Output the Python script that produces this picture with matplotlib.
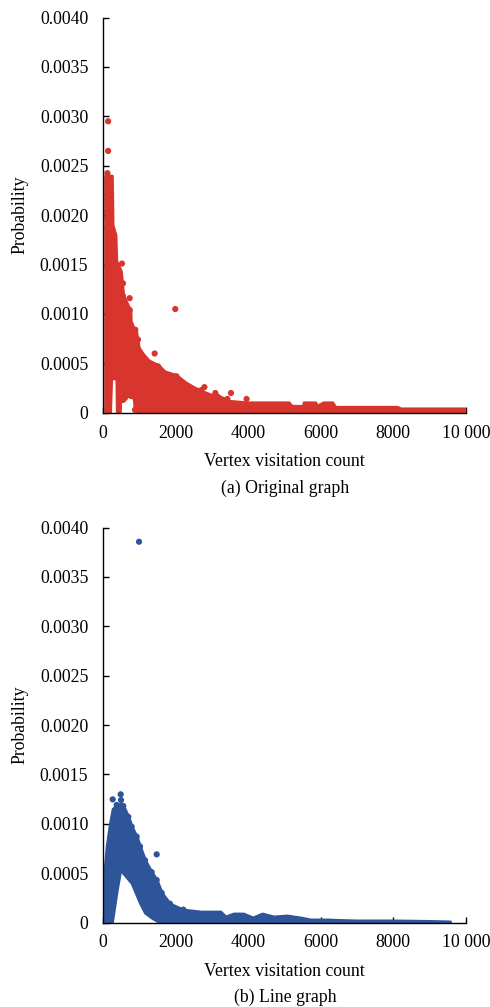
import matplotlib
matplotlib.use("Agg")
import matplotlib.pyplot as plt

plt.rcParams['font.family'] = ['Liberation Serif', 'DejaVu Serif']

# ---------------- data ----------------
# (a) Original graph: envelope of the dense cloud
x_orig = [70, 200, 230, 250, 270, 350, 370, 380, 390, 470, 480, 500, 560, 600, 700, 760, 770,
          860, 880, 916, 990, 1100, 1265, 1540, 1700, 2030, 2270, 2500, 2730, 3000, 3190, 3500,
          3970, 5120, 5200, 5520, 5530, 5850, 5900, 6070, 6320, 6400, 8100, 8200, 9950]
upper_orig = [0.0024, 0.0024, 0.0024, 0.0024, 0.0019, 0.0018, 0.00155, 0.00153, 0.00152, 0.00146,
              0.00145, 0.00143, 0.0012, 0.00116, 0.00108, 0.00105, 0.00093, 0.00085, 0.00084,
              0.00083, 0.00066, 0.0006, 0.00053, 0.00048, 0.00042, 0.00038, 0.00031, 0.00026,
              0.00022, 0.00018, 0.00017, 0.00012, 0.000105, 0.000105, 0.00007, 0.00007, 0.000105,
              0.000105, 0.00007, 0.000105, 0.000105, 0.00006, 0.00006, 0.000044, 0.000044]
lower_orig = [0, 0, 0.00035, 0.00035, 0.00035, 0.00035, 0.00035, 0.00035, 0, 0, 0.00016, 0.00017,
              0.00017, 0.00017, 0.00017, 0.00016, 0.00016, 0.00015, 0, 0, 0, 0, 0, 0, 0, 0, 0, 0,
              0, 0, 0, 0, 0, 0, 0, 0, 0, 0, 0, 0, 0, 0, 0, 0, 0]
# (a) individual dots: column near x = 150, cloud edge and outliers
dots_orig_x = [150, 150,
               130, 170, 130, 170, 130, 130, 170, 130, 130, 170, 130, 170, 190,
               284, 238, 284, 421, 467, 530, 559, 559, 742, 742, 880, 898, 972, 972, 1063,
               1247, 1430, 1522, 1997, 2027, 2072, 2256, 2715, 2800, 3100, 3174, 3430, 3530, 3960,
               560, 610, 890]
dots_orig_y = [0.00295, 0.00265,
               0.002425, 0.002375, 0.002317, 0.002263, 0.002206, 0.002155, 0.002097, 0.002036,
               0.001986, 0.001929, 0.001874, 0.001818, 0.00176,
               0.00182, 0.00172, 0.00163, 0.00145, 0.00141, 0.00151, 0.00131, 0.00118, 0.00104,
               0.00116, 0.00084, 0.00084, 0.00074, 0.00064, 0.00057,
               0.0005, 0.0006, 0.00047, 0.00105, 0.00037, 0.00033, 0.00026, 0.00023, 0.00026,
               0.0002, 0.00016, 0.00014, 0.0002, 0.00014,
               0.00013, 0.00015, 0.00003]

# (b) Line graph: envelope of the dense cloud
x_line = [30, 63, 110, 200, 250, 275, 385, 485, 500, 567, 705, 797, 935, 990, 1027, 1165, 1348,
          1486, 1580, 1624, 1852, 2219, 2700, 3000, 3240, 3380, 3600, 3870, 4130, 4390, 4700,
          5070, 5440, 5710, 6170, 6500, 7000, 8000, 9000, 9560]
upper_line = [0.0005, 0.00057, 0.00077, 0.001, 0.0011, 0.00115, 0.00119, 0.0012, 0.0012,
              0.00118, 0.00107, 0.00097, 0.00087, 0.00081, 0.00077, 0.00063, 0.00051, 0.00043,
              0.00034, 0.0003, 0.00019, 0.00013, 0.00011, 0.00011, 0.00011, 0.00006, 0.00009,
              0.00009, 0.00005, 0.00009, 0.00006, 0.00007, 0.00005, 0.00003, 0.00003, 0.000025,
              0.00002, 0.00002, 0.000015, 0.00001]
lower_line = [0, 0, 0, 0, 0, 0.00006, 0.00033, 0.00054, 0.00054, 0.0005, 0.00044, 0.0004,
              0.00028, 0.00023, 0.0002, 0.0001, 0.00005, 0.00002, 0, 0, 0, 0, 0, 0, 0, 0, 0, 0,
              0, 0, 0, 0, 0, 0, 0, 0, 0, 0, 0, 0]
# (b) individual dots: peak, edge and outliers
dots_line_x = [275, 495, 504, 385, 567, 705, 797, 935, 1027, 1165, 1348, 1486, 1624, 1852,
               2219, 1486, 1000]
dots_line_y = [0.001247, 0.001298, 0.00124, 0.00119, 0.00118, 0.00107, 0.00097, 0.00087,
               0.00077, 0.00063, 0.00051, 0.00043, 0.0003, 0.00019, 0.00013, 0.00069, 0.003856]

x_ticks = [0, 2000, 4000, 6000, 8000, 10000]
x_ticklabels = ["0", "2000", "4000", "6000", "8000", "10 000"]
y_ticks = [0, 0.0005, 0.001, 0.0015, 0.002, 0.0025, 0.003, 0.0035, 0.004]
y_ticklabels = ["0", "0.0005", "0.0010", "0.0015", "0.0020", "0.0025", "0.0030", "0.0035", "0.0040"]

red = '#d8352f'
blue = '#2e5599'
FS = 12.8

W, H = 490, 1007
fig = plt.figure(figsize=(W / 100, H / 100), dpi=100)
ax1 = fig.add_axes([102.7 / W, 1 - 412.8 / H, (466 - 102.7) / W, (412.8 - 17.5) / H])
ax2 = fig.add_axes([102.7 / W, 1 - 922.5 / H, (466 - 102.7) / W, (922.5 - 527.5) / H])


def style(ax):
    ax.set_xlim(0, 10000)
    ax.set_ylim(0, 0.004)
    ax.set_xticks(x_ticks)
    ax.set_xticklabels(x_ticklabels)
    ax.set_yticks(y_ticks)
    ax.set_yticklabels(y_ticklabels)
    for s in ['top', 'right']:
        ax.spines[s].set_visible(False)
    for s in ['left', 'bottom']:
        ax.spines[s].set_linewidth(1.0)
        ax.spines[s].set_zorder(5)
    ax.tick_params(axis='both', direction='in', length=4, width=1.0, labelsize=FS)
    ax.tick_params(axis='x', pad=8.5)
    ax.tick_params(axis='y', pad=10.3)
    ax.set_xlabel("Vertex visitation count", fontsize=FS, labelpad=8.5)
    ax.set_ylabel("Probability", fontsize=FS, labelpad=8)


ax1.fill_between(x_orig, lower_orig, upper_orig, facecolor=red, edgecolor=red, lw=2.2,
                 joinstyle='round', zorder=2)
ax1.scatter(dots_orig_x, dots_orig_y, s=20, color=red, edgecolors='none', zorder=3, clip_on=False)
style(ax1)

ax2.fill_between(x_line, lower_line, upper_line, facecolor=blue, edgecolor=blue, lw=2.2,
                 joinstyle='round', zorder=2)
ax2.scatter(dots_line_x, dots_line_y, s=20, color=blue, edgecolors='none', zorder=3, clip_on=False)
style(ax2)

fig.text(285 / W, 1 - 488 / H, "(a) Original graph", ha='center', va='center', fontsize=FS)
fig.text(285 / W, 1 - 997 / H, "(b) Line graph", ha='center', va='center', fontsize=FS)

fig.savefig("out.png", dpi=100)
